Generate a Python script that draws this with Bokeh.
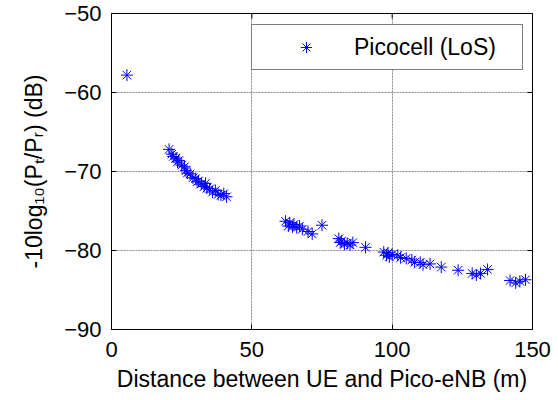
import math
from bokeh.plotting import figure
from bokeh.models import Legend, LegendItem, FixedTicker, Range1d
from bokeh.embed import file_html
from bokeh.resources import INLINE

# Distance (m) and path loss -10log10(Pt/Pr) (dB)
dist = [5.5,
        20.5, 21.5, 22.0, 23.0, 23.5, 24.0, 25.0, 26.0, 26.5, 27.0, 28.0, 29.0, 30.0,
        30.5, 31.0, 32.0, 33.0, 33.5, 34.0, 35.0, 36.0, 37.0, 38.0, 39.0, 40.0, 41.0,
        62.0, 63.0, 63.5, 64.5, 65.0, 66.0, 67.0, 68.0, 70.0, 71.5, 75.0,
        81.0, 81.5, 82.0, 83.0, 84.0, 85.0, 86.0, 90.5,
        97.0, 98.0, 98.5, 99.0, 100.0, 102.0, 103.0, 105.0, 107.0, 108.0, 110.0, 111.0,
        113.5, 117.5,
        123.5, 128.5, 130.0, 131.5, 134.0,
        142.0, 144.0, 145.5, 147.5]
loss = [-57.8,
        -67.2, -67.8, -68.1, -68.3, -68.8, -68.6, -69.2, -69.4, -69.9, -70.2, -70.3, -70.8, -70.9,
        -71.3, -71.2, -71.6, -71.9, -71.5, -72.1, -72.2, -72.6, -72.4, -72.9, -73.0, -72.8, -73.2,
        -76.3, -76.9, -76.5, -77.0, -76.7, -77.1, -76.9, -77.3, -77.6, -77.9, -76.8,
        -78.5, -79.0, -78.8, -79.2, -79.1, -79.3, -79.0, -79.6,
        -80.2, -80.6, -80.3, -80.8, -80.5, -80.6, -80.9, -81.0, -81.2, -81.5, -81.5, -81.8,
        -81.7, -82.1,
        -82.5, -82.9, -83.1, -82.9, -82.4,
        -83.8, -84.1, -83.9, -83.7]

x_ticks = [0, 50, 100, 150]
y_ticks = [-90, -80, -70, -60, -50]
x_lim = (0, 150)
y_lim = (-90, -50)
series_label = "Picocell (LoS)"
x_label = "Distance between UE and Pico-eNB (m)"
y_label = "-10log\u2081\u2080(P\u209c/P\u1d63) (dB)"

FONT = "Liberation Sans"

p = figure(width=558, height=400, output_backend="svg", toolbar_location=None,
           x_range=Range1d(*x_lim), y_range=Range1d(*y_lim),
           min_border_left=111, min_border_right=26, min_border_top=13,
           min_border_bottom=71, background_fill_color="white",
           border_fill_color="white")

p.outline_line_color = "black"
p.outline_line_width = 1

for ax in p.xaxis + p.yaxis:
    ax.major_tick_in = 5
    ax.major_tick_out = 0
    ax.minor_tick_in = 0
    ax.minor_tick_out = 0
    ax.axis_line_color = "black"
    ax.major_tick_line_color = "black"
    ax.major_label_text_font = FONT
    ax.major_label_text_font_size = "22px"
    ax.major_label_text_color = "black"
    ax.axis_label_text_font = FONT
    ax.axis_label_text_font_size = "23px"
    ax.axis_label_text_font_style = "normal"
    ax.axis_label_text_color = "black"

p.xaxis.ticker = FixedTicker(ticks=x_ticks)
p.yaxis.ticker = FixedTicker(ticks=y_ticks)
p.xaxis.axis_label = x_label
p.yaxis.axis_label = y_label
p.xaxis.major_label_standoff = 12
p.xaxis.axis_label_standoff = 6
p.yaxis.major_label_standoff = 10
p.yaxis.axis_label_standoff = 14

p.xgrid.ticker = FixedTicker(ticks=x_ticks)
p.ygrid.ticker = FixedTicker(ticks=y_ticks)
p.grid.grid_line_color = "#888888"
p.grid.grid_line_width = 1
p.grid.grid_line_dash = "2 1"

# tick marks on the top and right edges of the box (clipped to the frame)
p.scatter(x_ticks, [y_lim[1]] * len(x_ticks), marker="dash", angle=math.pi / 2,
          size=10, line_color="black", line_width=1)
p.scatter([x_lim[1]] * len(y_ticks), y_ticks, marker="dash",
          size=10, line_color="black", line_width=1)

r = p.scatter(dist, loss, marker="asterisk", size=12, line_color="#0000ff",
              line_width=1)

legend = Legend(items=[LegendItem(label=series_label, renderers=[r])],
                location=(140, 259))
legend.border_line_color = "black"
legend.border_line_width = 1
legend.background_fill_alpha = 1
legend.padding = 8
legend.margin = 0
legend.glyph_width = 92
legend.glyph_height = 28
legend.label_standoff = 2
legend.label_width = 160
legend.label_text_font = FONT
legend.label_text_font_size = "23px"
legend.label_text_color = "black"
p.add_layout(legend)

open("out.html", "w").write(file_html(p, INLINE))
